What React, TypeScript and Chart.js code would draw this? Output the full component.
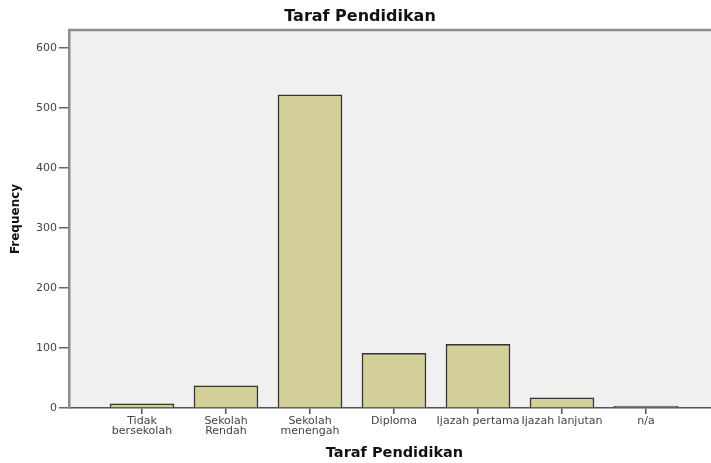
import React, { useEffect, useRef } from "react";
import { Chart, registerables } from "chart.js";

Chart.register(...registerables);

// ---- data ----
const categories: (string | string[])[] = [
  ["Tidak", "bersekolah"],
  ["Sekolah", "Rendah"],
  ["Sekolah", "menengah"],
  "Diploma",
  "Ijazah pertama",
  "Ijazah lanjutan",
  "n/a",
];
const frequencies: number[] = [7, 37, 522, 91, 106, 17, 3];
const yTickValues: number[] = [0, 100, 200, 300, 400, 500, 600];
const chartTitle = "Taraf Pendidikan";
const xAxisTitle = "Taraf Pendidikan";
const yAxisTitle = "Frequency";

const plotBackground = {
  id: "plotBackground",
  beforeDraw(chart: any) {
    const { ctx, chartArea } = chart;
    const { left, top, right, bottom } = chartArea;
    ctx.save();
    ctx.fillStyle = "#f0f0f0";
    ctx.fillRect(left, top, right - left, bottom - top);
    ctx.strokeStyle = "#8c8c8c";
    ctx.lineWidth = 2.5;
    ctx.beginPath();
    ctx.moveTo(left - 1, top);
    ctx.lineTo(right, top);
    ctx.stroke();
    ctx.restore();
  },
};

export default function App() {
  const canvasRef = useRef<HTMLCanvasElement | null>(null);

  useEffect(() => {
    const canvas = canvasRef.current;
    if (!canvas) return;
    const chart = new Chart(canvas, {
      type: "bar",
      data: {
        datasets: [
          {
            label: yAxisTitle,
            data: categories.map((_, i) => ({ x: i, y: frequencies[i] })),
            backgroundColor: "#d3cf98",
            borderColor: "#333",
            borderWidth: 1.5,
            barThickness: 64,
          } as any,
        ],
      },
      options: {
        animation: false,
        responsive: false,
        maintainAspectRatio: false,
        layout: { padding: 0 },
        plugins: {
          legend: { display: false },
          tooltip: { enabled: false },
          title: {
            display: true,
            text: chartTitle,
            color: "#111",
            font: { family: "DejaVu Sans", size: 16, weight: "bold", lineHeight: 1.2 },
            padding: { top: 7, bottom: 3.8 },
          },
        },
        scales: {
          x: {
            type: "linear",
            min: -0.869,
            max: 6.881,
            bounds: "data",
            offset: false,
            afterFit: (s: any) => {
              s.height = 55;
            },
            afterBuildTicks: (s: any) => {
              s.ticks = categories.map((_, i) => ({ value: i }));
            },
            ticks: {
              autoSkip: false,
              maxRotation: 0,
              minRotation: 0,
              padding: 2,
              color: "#444",
              font: { family: "DejaVu Sans", size: 11, lineHeight: 0.9 },
              callback: (v: any) => categories[Math.round(Number(v))] as any,
            },
            grid: {
              drawOnChartArea: false,
              drawTicks: true,
              tickLength: 6,
              color: "#555",
              lineWidth: 1.5,
              offset: false,
            },
            border: { display: true, color: "#555", width: 1.5 },
            title: {
              display: true,
              text: xAxisTitle,
              color: "#111",
              font: { family: "DejaVu Sans", size: 14.5, weight: "bold", lineHeight: 1.2 },
              padding: { top: 0, bottom: 1 },
            },
          } as any,
          y: {
            type: "linear",
            min: 0,
            max: 630,
            bounds: "data",
            afterFit: (s: any) => {
              s.width = 69;
            },
            afterBuildTicks: (s: any) => {
              s.ticks = yTickValues.map((v) => ({ value: v }));
            },
            ticks: {
              padding: 2,
              color: "#444",
              font: { family: "DejaVu Sans", size: 11 },
            },
            grid: {
              drawOnChartArea: false,
              drawTicks: true,
              tickLength: 10,
              color: "#666",
              lineWidth: 1.5,
            },
            border: { display: true, color: "#8c8c8c", width: 2.5 },
            title: {
              display: true,
              text: yAxisTitle,
              color: "#111",
              font: { family: "DejaVu Sans", size: 12, weight: "bold", lineHeight: 1.2 },
              padding: { top: 9, bottom: 0 },
            },
          } as any,
        },
      },
      plugins: [plotBackground],
    });
    return () => chart.destroy();
  }, []);

  return (
    <div
      style={{
        position: "fixed",
        left: 0,
        top: 0,
        width: 711,
        height: 463,
        overflow: "hidden",
        background: "#fff",
      }}
    >
      <canvas ref={canvasRef} width={720} height={463} style={{ display: "block" }} />
    </div>
  );
}
